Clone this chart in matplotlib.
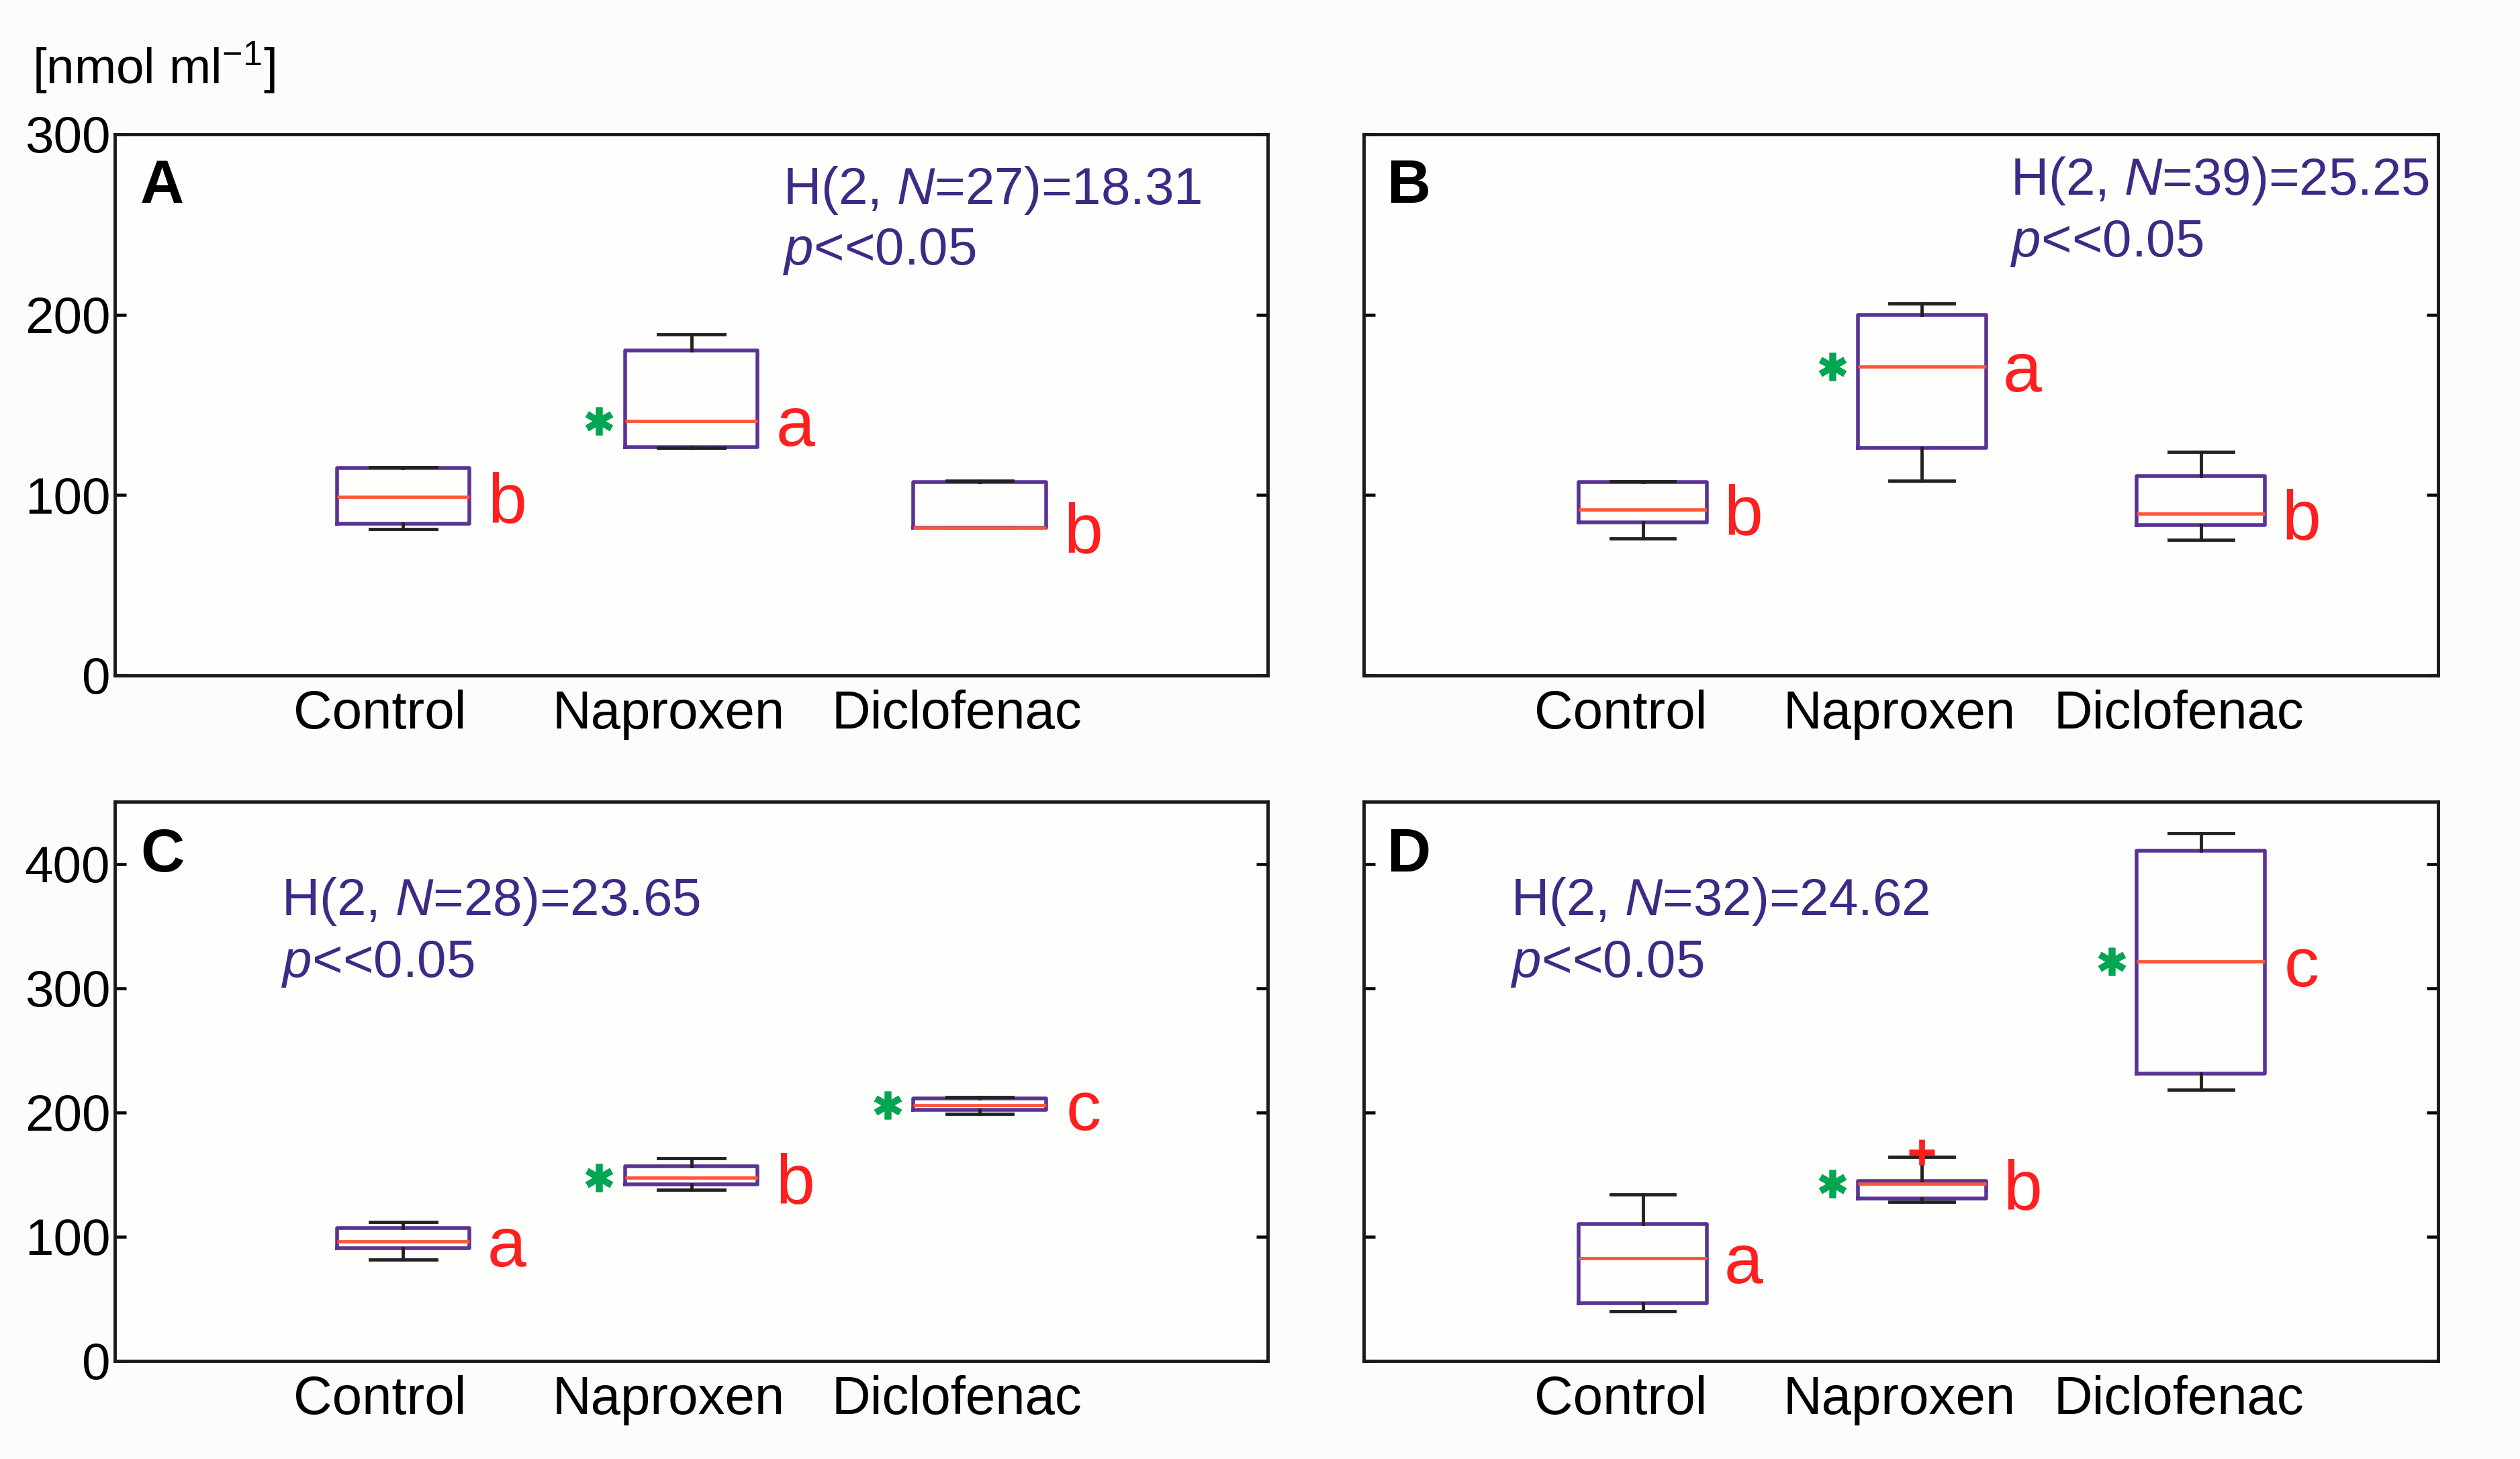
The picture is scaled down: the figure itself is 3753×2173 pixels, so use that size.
import numpy as np
import matplotlib.pyplot as plt

plt.rcParams['font.family'] = 'Liberation Sans'
plt.rcParams['mathtext.fontset'] = 'custom'
plt.rcParams['mathtext.rm'] = 'Liberation Sans'
plt.rcParams['mathtext.it'] = 'Liberation Sans:italic'

grupos = ['Control', 'Naproxen', 'Diclofenac']
posiciones = [1, 2, 3]

# Panel A
a_lo = [81, 126, 82]
a_q1 = [84, 126.5, 82]
a_med = [99, 141, 82]
a_q3 = [115, 180, 107]
a_hi = [115.5, 189, 108]
a_letras = ['b', 'a', 'b']
a_sig = [False, True, False]
a_stat = 'H(2, $\\mathit{N}$=27)=18.31'

# Panel B
b_lo = [76, 108, 75]
b_q1 = [85, 126, 83.5]
b_med = [92, 171, 89.5]
b_q3 = [107, 200, 110.5]
b_hi = [107.5, 206, 124]
b_letras = ['b', 'a', 'b']
b_sig = [False, True, False]
b_stat = 'H(2, $\\mathit{N}$=39)=25.25'

# Panel C
c_lo = [81.5, 138, 199]
c_q1 = [90.5, 142, 202]
c_med = [96, 147.5, 206]
c_q3 = [107, 156.5, 211.5]
c_hi = [112, 163, 212.5]
c_letras = ['a', 'b', 'c']
c_sig = [False, True, True]
c_stat = 'H(2, $\\mathit{N}$=28)=23.65'

# Panel D
d_lo = [40, 128, 218]
d_q1 = [46.5, 131, 231]
d_med = [82.5, 142.5, 321.5]
d_q3 = [110, 145, 410.5]
d_hi = [134, 164, 424.5]
d_atipicos = [[], [168], []]
d_letras = ['a', 'b', 'c']
d_sig = [False, True, True]
d_stat = 'H(2, $\\mathit{N}$=32)=24.62'

morado = '#5a3394'
mediana_col = '#ff5538'
rojo = '#ff1f1f'
verde = '#00a651'
texto_col = '#3e2a86'

fig = plt.figure(figsize=(15.012, 8.692), dpi=250, facecolor='#fdfcfb')

paneles = [
    ('A', [0.0456, 0.5371, 0.4575, 0.3709], 4.0, 300, [0, 100, 200, 300], True,
     a_lo, a_q1, a_med, a_q3, a_hi, None, a_letras, a_sig, a_stat, (0.5795, 0.896, 0.783)),
    ('B', [0.5412, 0.5371, 0.4263, 0.3709], 3.85, 300, [0, 100, 200, 300], False,
     b_lo, b_q1, b_med, b_q3, b_hi, None, b_letras, b_sig, b_stat, (0.602, 0.914, 0.798)),
    ('C', [0.0456, 0.0672, 0.4575, 0.3833], 4.0, 450, [0, 100, 200, 300, 400], True,
     c_lo, c_q1, c_med, c_q3, c_hi, None, c_letras, c_sig, c_stat, (0.1444, 0.822, 0.71)),
    ('D', [0.5412, 0.0672, 0.4263, 0.3833], 3.85, 450, [0, 100, 200, 300, 400], False,
     d_lo, d_q1, d_med, d_q3, d_hi, d_atipicos, d_letras, d_sig, d_stat, (0.137, 0.822, 0.71)),
]

for (nombre, rect, xmax, ymax, yticks, etiquetas_y,
     lo, q1, med, q3, hi, atip, letras, sig, stat, txt_pos) in paneles:
    ax = fig.add_axes(rect, facecolor='#fefefd')
    stats = []
    for i in range(3):
        stats.append(dict(whislo=lo[i], q1=q1[i], med=med[i], q3=q3[i], whishi=hi[i],
                          fliers=atip[i] if atip else []))
    ax.bxp(stats, positions=posiciones, widths=0.46, capwidths=0.23, showfliers=True,
           boxprops=dict(color=morado, linewidth=1.6),
           medianprops=dict(color=mediana_col, linewidth=1.4),
           whiskerprops=dict(color='#222222', linewidth=1.4),
           capprops=dict(color='#222222', linewidth=1.4),
           flierprops=dict(marker='+', markeredgecolor=rojo, markersize=11, markeredgewidth=2.5))

    for i, p in enumerate(posiciones):
        ax.annotate(letras[i], (p + 0.36, med[i]), xytext=(0, -3), textcoords='offset points',
                    color=rojo, fontsize=30, ha='center', va='center')
        if sig[i]:
            ax.plot(p - 0.32, med[i], marker=(6, 2, 0), color=verde,
                    markersize=12, markeredgewidth=2.8)

    ax.set_xlim(0, xmax)
    ax.set_ylim(0, ymax)
    ax.set_yticks(yticks)
    # las etiquetas del original quedan algo a la izquierda de las cajas
    ax.set_xticks([p - 0.08 for p in posiciones])
    ax.set_xticklabels(grupos, fontsize=23)
    ax.tick_params(axis='x', length=0, pad=6)
    ax.tick_params(axis='y', direction='in', length=5, width=1.3, right=True,
                   labelsize=22, pad=2, labelleft=etiquetas_y)
    for s in ax.spines.values():
        s.set_linewidth(1.4)
        s.set_color('#1a1a1a')

    ax.text(0.022, 0.903, nombre, transform=ax.transAxes, fontsize=26,
            fontweight='bold', ha='left', va='center')
    ax.text(txt_pos[0], txt_pos[1], stat, transform=ax.transAxes, fontsize=22.5,
            color=texto_col, ha='left', va='center')
    ax.text(txt_pos[0], txt_pos[2], '$\\mathit{p}$<<0.05', transform=ax.transAxes,
            fontsize=22.5, color=texto_col, ha='left', va='center')

fig.text(0.0128, 0.9425, '[nmol ml$^{\\mathregular{-1}}$]', fontsize=21.5,
         ha='left', va='baseline')

fig.savefig('out.png', dpi=250, facecolor=fig.get_facecolor())
